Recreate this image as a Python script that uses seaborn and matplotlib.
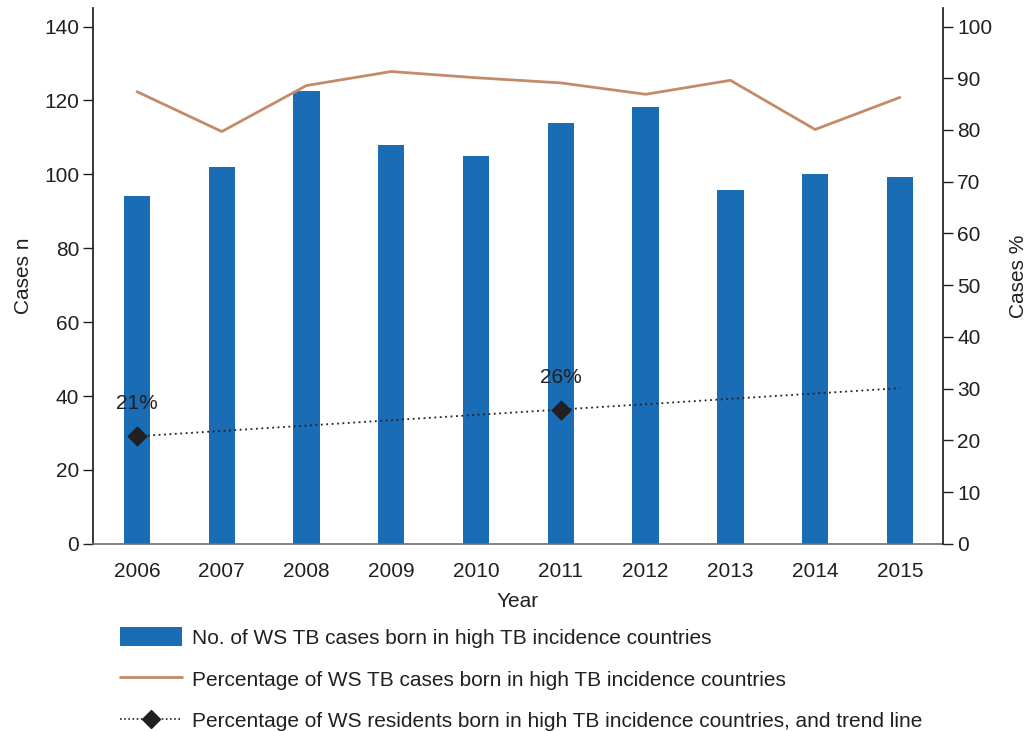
import matplotlib
matplotlib.use("Agg")
import matplotlib.pyplot as plt
from matplotlib.lines import Line2D
from matplotlib.patches import Patch
import seaborn as sns
import numpy as np
import pandas as pd

# Values.
years = ["2006", "2007", "2008", "2009", "2010", "2011", "2012", "2013", "2014", "2015"]
cases_n = [94.2, 102.0, 122.6, 108.0, 105.0, 113.9, 118.3, 95.8, 100.1, 99.3]
cases_pct = [87.4, 79.7, 88.6, 91.3, 90.1, 89.1, 86.9, 89.6, 80.1, 86.3]
resident_years = ["2006", "2011"]
resident_pct = [20.8, 25.9]
resident_labels = ["21%", "26%"]
trend_years = ["2006", "2015"]
trend_pct = [20.8, 30.1]

bar_color = "#1a6db5"
line_color = "#c48a6a"
dark = "#231f20"

sns.set_theme(style="white")
plt.rcParams["font.family"] = ["Liberation Sans", "DejaVu Sans"]
plt.rcParams["text.color"] = dark
plt.rcParams["axes.labelcolor"] = dark
plt.rcParams["xtick.color"] = dark
plt.rcParams["ytick.color"] = dark

df = pd.DataFrame({"year": years, "cases": cases_n, "pct": cases_pct})
df["pos"] = np.arange(len(years))
pos = {y: i for i, y in enumerate(years)}

fig = plt.figure(figsize=(10.33, 7.31), dpi=100)
ax = fig.add_axes([0.090, 0.256, 0.823, 0.733])

sns.barplot(data=df, x="year", y="cases", color=bar_color, width=0.31,
            saturation=1, linewidth=0, ax=ax)
ax.set_xlim(-0.52, len(years) - 1 + 0.51)
ax.set_ylim(0, 145)
ax.set_yticks(range(0, 141, 20))
ax.set_xlabel("Year", fontsize=15, labelpad=8)
ax.set_ylabel("Cases n", fontsize=15, labelpad=8)
ax.tick_params(axis="y", direction="out", length=7, width=1, left=True,
               labelsize=15, pad=3)
ax.tick_params(axis="x", length=0, labelsize=15, pad=13)
for s in ["top", "right"]:
    ax.spines[s].set_visible(False)
ax.spines["left"].set_color(dark)
ax.spines["bottom"].set_color("#6d6e71")
ax.spines["bottom"].set_linewidth(1.2)

ax2 = ax.twinx()
sns.lineplot(data=df, x="pos", y="pct", color=line_color, linewidth=2, ax=ax2)
ax2.plot([pos[y] for y in trend_years], trend_pct, linestyle=(0, (1, 2)),
         color=dark, linewidth=1.3)
ax2.scatter([pos[y] for y in resident_years], resident_pct, marker="D",
            s=90, color=dark, zorder=5)
for y, v, lab in zip(resident_years, resident_pct, resident_labels):
    ax2.text(pos[y], v + 4.5, lab, ha="center", va="bottom", fontsize=15)
ax2.set_xlim(-0.52, len(years) - 1 + 0.51)
ax2.set_ylim(0, 145 / 1.4)
ax2.set_yticks(range(0, 101, 10))
ax2.set_ylabel("Cases %", fontsize=15, labelpad=12)
ax2.set_xlabel("")
ax2.tick_params(axis="y", direction="out", length=7, width=1, right=True,
                labelsize=15, pad=3)
for s in ["top", "left", "bottom"]:
    ax2.spines[s].set_visible(False)
ax2.spines["right"].set_color(dark)

handles = [
    Patch(facecolor=bar_color, edgecolor="none"),
    Line2D([], [], color=line_color, linewidth=2),
    Line2D([], [], color=dark, linestyle=(0, (1, 1.5)), linewidth=1.2,
           marker="D", markersize=9),
]
labels = [
    "No. of WS TB cases born in high TB incidence countries",
    "Percentage of WS TB cases born in high TB incidence countries",
    "Percentage of WS residents born in high TB incidence countries, and trend line",
]
fig.legend(handles, labels, loc="upper left", bbox_to_anchor=(0.108, 0.153),
           frameon=False, fontsize=15, handlelength=3.0, handleheight=1.0,
           labelspacing=1.02, handletextpad=0.45, borderaxespad=0)

fig.savefig("out.png", dpi=100)
